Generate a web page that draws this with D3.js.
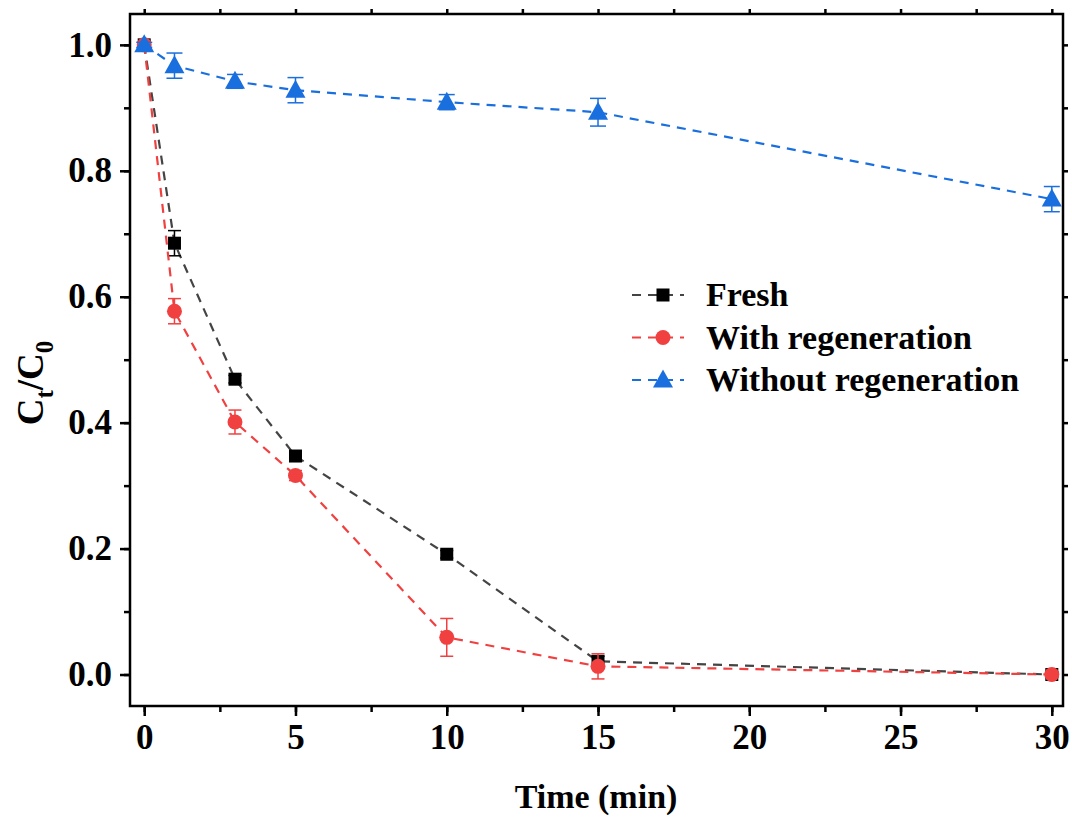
<!DOCTYPE html>
<html>
<head>
<meta charset="utf-8">
<script src="https://cdn.jsdelivr.net/npm/d3@7"></script>
<style>
  body { margin: 0; background: #fff; }
  svg text { font-family: "Liberation Serif", "Times New Roman", serif; font-weight: bold; }
</style>
</head>
<body>
<svg id="chart" width="1072" height="818"></svg>
<script>
// data
const times = [0, 1, 3, 5, 10, 15, 30];

const freshVals = [1.0, 0.685, 0.469, 0.347, 0.191, 0.021, 0.0];
const freshErr  = [0.004, 0.02, 0.006, 0.006, 0.006, 0.008, 0.004];

const withRegenVals = [1.0, 0.577, 0.401, 0.316, 0.059, 0.013, 0.0];
const withRegenErr  = [0.004, 0.02, 0.019, 0.008, 0.03, 0.02, 0.004];

const withoutRegenVals = [1.0, 0.967, 0.942, 0.928, 0.909, 0.893, 0.755];
const withoutRegenErr  = [0.004, 0.02, 0.011, 0.02, 0.012, 0.022, 0.02];

const xTicks = [0, 5, 10, 15, 20, 25, 30];
const yTicks = [0.0, 0.2, 0.4, 0.6, 0.8, 1.0];

const seriesNames = ["Fresh", "With regeneration", "Without regeneration"];

const series = [
  { name: seriesNames[0], vals: freshVals, err: freshErr, color: "#000000", line: "#444444", shape: "square" },
  { name: seriesNames[1], vals: withRegenVals, err: withRegenErr, color: "#F14040", line: "#F14040", shape: "circle" },
  { name: seriesNames[2], vals: withoutRegenVals, err: withoutRegenErr, color: "#1A6FDF", line: "#1A6FDF", shape: "triangle" }
];

const margin = { top: 14, right: 9, bottom: 112, left: 130 };
const width = 1072 - margin.left - margin.right;
const height = 818 - margin.top - margin.bottom;

const svg = d3.select("#chart");
const g = svg.append("g").attr("transform", `translate(${margin.left},${margin.top})`);

const x = d3.scaleLinear().domain([-0.47, 30.37]).range([0, width]);
const y = d3.scaleLinear().domain([-0.05, 1.049]).range([height, 0]);

const minorX = d3.range(0, 30.1, 2.5);
const minorY = d3.range(0, 1.01, 0.1).map(v => +v.toFixed(1));

// axes
const xAxis = d3.axisBottom(x).tickValues(xTicks).tickFormat(d3.format("d")).tickSize(10).tickPadding(8);
const yAxis = d3.axisLeft(y).tickValues(yTicks).tickFormat(d3.format(".1f")).tickSize(10).tickPadding(8);

function styleAxis(sel) {
  sel.select(".domain").remove();
  sel.selectAll("line").attr("stroke", "#000").attr("stroke-width", 2.5);
  sel.selectAll("text").attr("font-size", 35).attr("fill", "#000");
}

g.append("g").attr("transform", `translate(0,${height})`).call(xAxis).call(styleAxis);
g.append("g").call(yAxis).call(styleAxis);

// minor ticks
g.append("g").attr("transform", `translate(0,${height})`)
  .call(d3.axisBottom(x).tickValues(minorX).tickSize(6).tickFormat(""))
  .call(styleAxis);
g.append("g")
  .call(d3.axisLeft(y).tickValues(minorY).tickSize(6).tickFormat(""))
  .call(styleAxis);

// mirrored ticks on top and right
g.append("g")
  .call(d3.axisTop(x).tickValues(minorX).tickSize(5).tickFormat(""))
  .call(styleAxis);
g.append("g").attr("transform", `translate(${width},0)`)
  .call(d3.axisRight(y).tickValues(minorY).tickSize(5).tickFormat(""))
  .call(styleAxis);

// frame
g.append("rect")
  .attr("width", width).attr("height", height)
  .attr("fill", "none").attr("stroke", "#000").attr("stroke-width", 2.5);

const plot = g.append("g");

function drawMarker(sel, shape, color) {
  if (shape === "square") {
    sel.append("rect").attr("x", -6.5).attr("y", -6.5).attr("width", 13).attr("height", 13).attr("fill", color);
  } else if (shape === "circle") {
    sel.append("circle").attr("r", 7.5).attr("fill", color);
  } else {
    sel.append("path").attr("d", "M0,-10.5 L10,7.5 L-10,7.5 Z").attr("fill", color);
  }
}

series.forEach(s => {
  const pts = times.map((t, i) => ({ t: t, v: s.vals[i], e: s.err[i] }));

  plot.append("path")
    .datum(pts)
    .attr("fill", "none")
    .attr("stroke", s.line)
    .attr("stroke-width", 2.2)
    .attr("stroke-dasharray", "9,7")
    .attr("d", d3.line().x(d => x(d.t)).y(d => y(d.v)));

  const eb = plot.append("g").selectAll("g")
    .data(pts).enter().append("g")
    .attr("stroke", s.color).attr("stroke-width", 1.5);
  const cap = s.shape === "triangle" ? 8 : 6.5;
  eb.append("line")
    .attr("x1", d => x(d.t)).attr("x2", d => x(d.t))
    .attr("y1", d => y(d.v - d.e)).attr("y2", d => y(d.v + d.e));
  eb.append("line")
    .attr("x1", d => x(d.t) - cap).attr("x2", d => x(d.t) + cap)
    .attr("y1", d => y(d.v + d.e)).attr("y2", d => y(d.v + d.e));
  eb.append("line")
    .attr("x1", d => x(d.t) - cap).attr("x2", d => x(d.t) + cap)
    .attr("y1", d => y(d.v - d.e)).attr("y2", d => y(d.v - d.e));

  plot.append("g").selectAll("g")
    .data(pts).enter().append("g")
    .attr("transform", d => `translate(${x(d.t)},${y(d.v)})`)
    .each(function() { drawMarker(d3.select(this), s.shape, s.color); });
});

// legend
const legend = svg.append("g").attr("transform", "translate(632,295)");
series.forEach((s, i) => {
  const row = legend.append("g").attr("transform", `translate(0,${i * 42.5})`);
  row.append("line").attr("x1", 0).attr("x2", 52).attr("y1", 0).attr("y2", 0)
    .attr("stroke", s.line).attr("stroke-width", 2.2).attr("stroke-dasharray", "9,7");
  const m = row.append("g").attr("transform", "translate(31,0)");
  drawMarker(m, s.shape, s.color);
  row.append("text").attr("x", 74).attr("y", 11).attr("font-size", 34).attr("fill", "#000").text(s.name);
});

// axis titles
svg.append("text")
  .attr("x", margin.left + x(15) - 2).attr("y", 808)
  .attr("text-anchor", "middle").attr("font-size", 34).attr("fill", "#000")
  .text("Time (min)");

const yl = svg.append("text")
  .attr("transform", "translate(43,383) rotate(-90)")
  .attr("text-anchor", "middle").attr("font-size", 37).attr("fill", "#000");
yl.append("tspan").text("C");
yl.append("tspan").attr("font-size", 25).attr("dy", 10).text("t");
yl.append("tspan").attr("dy", -10).text("/C");
yl.append("tspan").attr("font-size", 25).attr("dy", 10).text("0");
</script>
</body>
</html>
